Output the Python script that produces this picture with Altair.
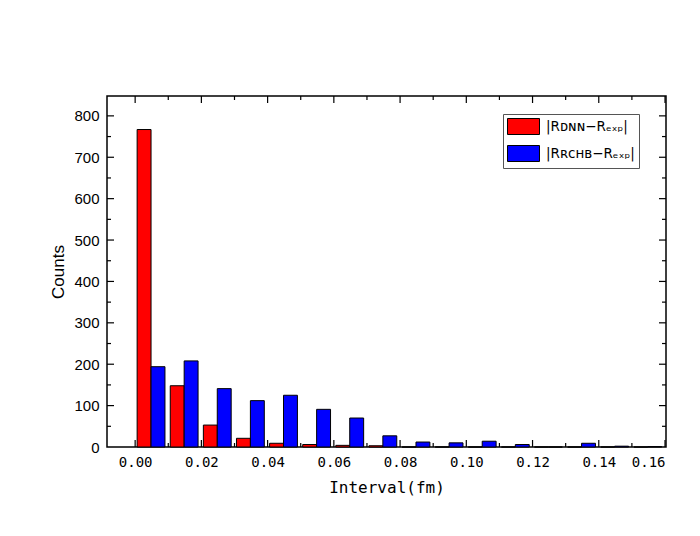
import pandas as pd
import altair as alt

# histogram bins (lower edge of each 0.01 fm interval)
bin_start = [0.00, 0.01, 0.02, 0.03, 0.04, 0.05, 0.06, 0.07,
             0.08, 0.09, 0.10, 0.11, 0.12, 0.13, 0.14, 0.15]
dnn_counts = [767, 148, 53, 21, 9, 6, 4, 3, 0, 0, 0, 0, 0, 0, 0, 0]
rchb_counts = [194, 208, 141, 112, 125, 91, 70, 27, 12, 10, 14, 6, 0, 9, 2, 1]

series_names = ['|Rᴅɴɴ−Rₑₓₚ|', '|Rʀᴄʜʙ−Rₑₓₚ|']
series_colors = ['#ff0000', '#0000ff']

x_major = [0.00, 0.02, 0.04, 0.06, 0.08, 0.10, 0.12, 0.14, 0.16]
x_minor = [0.01, 0.03, 0.05, 0.07, 0.09, 0.11, 0.13, 0.15]
y_major = [100, 200, 300, 400, 500, 600, 700, 800]
y_minor = [50, 150, 250, 350, 450, 550, 650, 750]

W, H = 559, 351
x_dom = [-0.0085, 0.1603]
y_dom = [0, 848]


def main():
    df = pd.DataFrame({
        'bin': bin_start * 2,
        'count': dnn_counts + rchb_counts,
        'series': [series_names[0]] * len(bin_start) + [series_names[1]] * len(bin_start),
        'k': [0] * len(bin_start) + [1] * len(bin_start),
    })

    xs = alt.Scale(domain=x_dom, nice=False, zero=False)
    ys = alt.Scale(domain=y_dom, nice=False)

    bars = alt.Chart(df).transform_calculate(
        x0='datum.bin + 0.0006 + datum.k * 0.0042',
        x1='datum.bin + 0.0048 + datum.k * 0.0042',
    ).mark_rect(stroke='black', strokeWidth=1).encode(
        x=alt.X('x0:Q', scale=xs,
                axis=alt.Axis(values=x_major, format='.2f', ticks=False, domain=False, grid=False,
                              labelFont='DejaVu Sans Mono', labelFontSize=14, labelPadding=8,
                              labelColor='black', title='Interval(fm)', titleFont='DejaVu Sans Mono',
                              titleFontSize=16, titleFontWeight='normal', titleColor='black',
                              titlePadding=10)),
        x2='x1:Q',
        y=alt.Y('count:Q', scale=ys,
                axis=alt.Axis(values=[0] + y_major, ticks=False, domain=False, grid=False,
                              labelFont='Liberation Sans', labelFontSize=15, labelPadding=8,
                              labelColor='black', title='Counts', titleFont='Liberation Sans',
                              titleFontSize=17, titleFontWeight='normal', titleColor='black',
                              titlePadding=6)),
        y2=alt.datum(0),
        color=alt.Color('series:N',
                        scale=alt.Scale(domain=series_names, range=series_colors),
                        legend=alt.Legend(title=None, orient='none', legendX=396, legendY=18,
                                          # 32x16 swatch drawn from a 16px symbol slot
                                          symbolType='M-1,-1H3V1H-1Z', symbolSize=256,
                                          symbolStrokeColor='black', symbolStrokeWidth=1,
                                          symbolOpacity=1, labelFont='DejaVu Sans',
                                          labelFontSize=13.5, labelColor='black', labelOffset=22,
                                          rowPadding=6, padding=4, strokeColor='#555',
                                          fillColor='white')),
    )

    def xticks(vals, length, top):
        d = pd.DataFrame({'v': vals})
        y0 = 0 if top else H
        y1 = length if top else H - length
        return alt.Chart(d).mark_rule(color='black', strokeWidth=1.2).encode(
            x=alt.X('v:Q', scale=xs), y=alt.value(y0), y2=alt.value(y1))

    def yticks(vals, length, right):
        d = pd.DataFrame({'v': vals})
        x0 = W if right else 0
        x1 = W - length if right else length
        return alt.Chart(d).mark_rule(color='black', strokeWidth=1.2).encode(
            y=alt.Y('v:Q', scale=ys), x=alt.value(x0), x2=alt.value(x1))

    ticks = [
        xticks(x_major, 7, False), xticks(x_minor, 4, False),
        xticks(x_major, 7, True), xticks(x_minor, 4, True),
        yticks(y_major, 7, False), yticks(y_minor, 4, False),
        yticks(y_major, 7, True), yticks(y_minor, 4, True),
    ]

    chart = alt.layer(bars, *ticks).properties(
        width=W, height=H,
        autosize=alt.AutoSizeParams(type='none'),
        padding={'left': 99, 'top': 88, 'right': 26, 'bottom': 81},
        background='white',
    ).configure_view(stroke='black', strokeWidth=1.5)

    chart.save('out.html', embed_options={'renderer': 'svg', 'actions': False})


main()
